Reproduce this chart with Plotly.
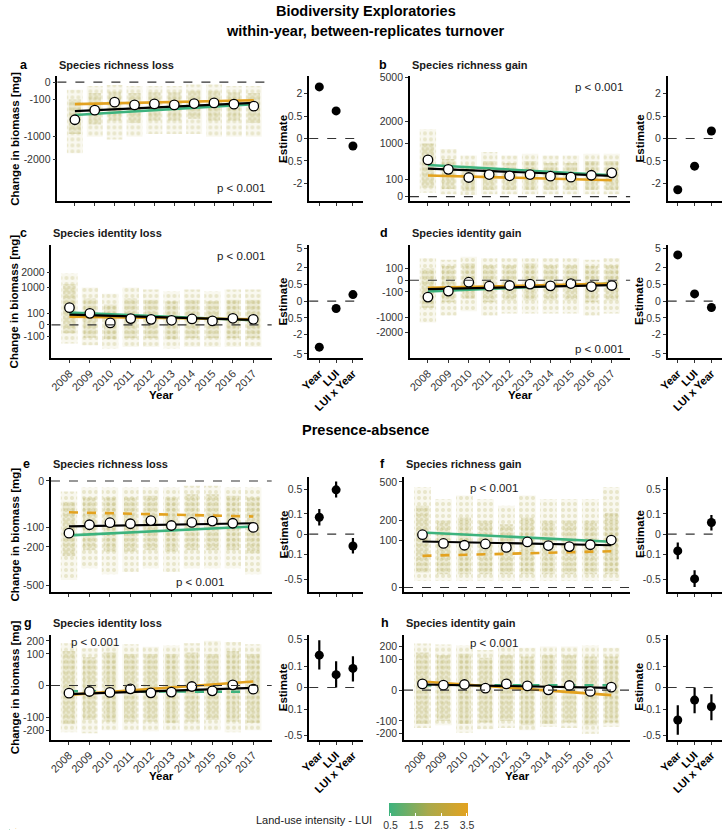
import numpy as np
import plotly.graph_objects as go

W, H = 722, 835
FONT = "Liberation Sans, Arial, sans-serif"

years = [2008, 2009, 2010, 2011, 2012, 2013, 2014, 2015, 2016, 2017]
terms = ["Year", "LUI", "LUI x Year"]
lui_ticks = [0.5, 1.5, 2.5, 3.5]
lui_range = [0.45, 3.55]

# ---------------- panel a : species richness loss (biomass)
a_mean = [-475, -263, -135, -174, -159, -174, -154, -145, -163, -194]
a_black = [-282, -145]
a_green = [-364, -163]
a_orange = [-163, -110]
a_est = [2.65, 0.76, -0.056]
a_est_lo = [2.40, 0.64, -0.10]
a_est_hi = [2.95, 0.88, -0.025]
a_cloud_lo = [-1700, -1000, -1100, -1000, -900, -900, -900, -1000, -1000, -1000]
a_cloud_hi = [-20, -5, -3, -5, -5, -5, -2, -2, -5, -5]
a_core_lo = [-900, -600, -500, -550, -500, -500, -450, -500, -500, -550]
a_core_hi = [-100, -40, -30, -40, -35, -35, -25, -25, -35, -40]
a_yticks = [0, -100, -1000, -2000]

# ---------------- panel b : species richness gain (biomass)
b_mean = [475, 263, 129, 172, 153, 172, 147, 133, 161, 199]
b_black = [277, 153]
b_green = [354, 161]
b_orange = [157, 95]
b_est = [-2.61, -0.757, 0.057]
b_est_lo = [-2.90, -0.88, 0.025]
b_est_hi = [-2.35, -0.64, 0.10]
b_cloud_lo = [5, 2, 1, 2, 2, 2, 2, 2, 2, 2]
b_cloud_hi = [1600, 800, 600, 700, 600, 650, 600, 600, 650, 650]
b_core_lo = [30, 20, 10, 15, 15, 15, 15, 15, 15, 15]
b_core_hi = [1000, 500, 350, 450, 400, 450, 400, 400, 450, 450]
b_yticks = [0, 100, 1000, 2000, 5000]

# ---------------- panel c : species identity loss (biomass)
c_mean = [212, 95, 2.8, 28, 22, 15, 25, 11, 31, 22]
c_black = [75, 18]
c_green = [107, 15]
c_orange = [49, 22]
c_est = [-3.8, -0.097, 0.077]
c_est_lo = [-4.4, -0.19, 0.023]
c_est_hi = [-3.3, -0.033, 0.16]
c_cloud_lo = [-250, -300, -400, -350, -350, -400, -350, -350, -350, -350]
c_cloud_hi = [1900, 1000, 700, 1000, 900, 800, 900, 800, 900, 900]
c_core_lo = [-50, -120, -150, -130, -130, -150, -130, -130, -130, -130]
c_core_hi = [1200, 500, 300, 500, 450, 400, 450, 400, 450, 450]
c_yticks = [-100, 0, 100, 1000, 2000]

# ---------------- panel d : species identity gain (biomass)
d_mean = [-206, -86, -2.9, -26, -20, -11, -23, -8, -29, -20]
d_black = [-58, -18]
d_green = [-93, -8]
d_orange = [-42, -8]
d_est = [3.84, 0.094, -0.072]
d_est_lo = [3.3, 0.033, -0.16]
d_est_hi = [4.4, 0.19, -0.023]
d_cloud_lo = [-1300, -900, -700, -900, -800, -800, -800, -800, -900, -800]
d_cloud_hi = [350, 300, 400, 350, 350, 350, 350, 350, 300, 350]
d_core_lo = [-550, -350, -250, -350, -300, -300, -300, -300, -350, -300]
d_core_hi = [100, 150, 200, 170, 170, 200, 170, 170, 150, 170]
d_yticks = [-2000, -1000, -100, 0, 100]

# ---------------- panel e : species richness loss (presence-absence)
e_mean = [-125, -88, -80, -84, -72, -91, -79, -74, -82, -99]
e_black = [-95, -82]
e_green = [-136, -95]
e_orange = [-45, -58]
e_est = [0.07, 0.483, -0.035]
e_est_lo = [0.018, 0.33, -0.093]
e_est_hi = [0.156, 0.68, -0.004]
e_cloud_lo = [-450, -350, -400, -380, -350, -380, -350, -350, -350, -400]
e_cloud_hi = [-5, -2, -2, -2, -2, -2, -1, -1, -2, -2]
e_core_lo = [-260, -220, -230, -230, -220, -230, -220, -220, -220, -240]
e_core_hi = [-20, -12, -12, -12, -10, -12, -8, -8, -10, -12]
e_yticks = [0, -100, -200, -500]

# ---------------- panel f : species richness gain (presence-absence)
f_mean = [125, 87, 80, 85, 72, 93, 79, 75, 82, 101]
f_black = [95, 80]
f_green = [136, 94]
f_orange = [45, 59]
f_est = [-0.07, -0.497, 0.033]
f_est_lo = [-0.158, -0.695, 0.003]
f_est_hi = [-0.018, -0.324, 0.091]
f_cloud_lo = [2, 2, 2, 2, 2, 2, 2, 2, 2, 2]
f_cloud_hi = [450, 350, 380, 350, 300, 380, 350, 350, 350, 450]
f_core_lo = [10, 8, 8, 8, 8, 8, 8, 8, 8, 8]
f_core_hi = [300, 200, 220, 200, 180, 220, 200, 200, 200, 250]
f_yticks = [0, 100, 200, 500]

# ---------------- panel g : species identity loss (presence-absence)
g_mean = [-5.9, -3.6, -4.8, -1.1, -5.4, -4.4, -0.1, -2.9, 0.04, -1.35]
g_black = [-7.5, -0.57]
g_green = [-3.2, -4.0]
g_orange = [-8.8, 1.6]
g_est = [0.227, 0.036, 0.079]
g_est_lo = [0.071, 0.0, 0.0077]
g_est_hi = [0.483, 0.151, 0.213]
g_cloud_lo = [-220, -230, -200, -200, -210, -200, -210, -200, -220, -200]
g_cloud_hi = [180, 140, 170, 170, 150, 160, 180, 200, 190, 170]
g_core_lo = [-150, -120, -130, -130, -130, -140, -130, -120, -130, -140]
g_core_hi = [120, 80, 110, 100, 100, 100, 110, 100, 120, 100]
g_yticks = [-200, -100, 0, 100, 200]

# ---------------- panel h : species identity gain (presence-absence)
h_mean = [4.1, 2.6, 3.4, 0.4, 4.1, 1.9, 0.01, 2.3, -0.18, 0.94]
h_black = [3.4, 0.55]
h_green = [2.6, 2.6]
h_orange = [7.9, -2.6]
h_est = [-0.228, -0.034, -0.08]
h_est_lo = [-0.485, -0.144, -0.23]
h_est_hi = [-0.067, 0.0, -0.0096]
h_cloud_lo = [-150, -130, -190, -160, -150, -170, -140, -150, -200, -140]
h_cloud_hi = [230, 220, 210, 170, 200, 190, 200, 200, 210, 190]
h_core_lo = [-120, -100, -120, -110, -100, -130, -120, -110, -130, -110]
h_core_hi = [150, 130, 140, 110, 130, 120, 130, 130, 120, 120]
h_yticks = [-200, -100, 0, 100, 200]

est_ticks_r1 = [-2, -0.5, 0, 0.5, 2]
est_ticks_r2 = [-5, -2, -0.5, 0, 0.5, 2, 5]
est_ticks_r34 = [-0.5, -0.1, 0, 0.1, 0.5]

titles = ["Species richness loss", "Species richness gain",
          "Species identity loss", "Species identity gain",
          "Species richness loss", "Species richness gain",
          "Species identity loss", "Species identity gain"]
letters = ["a", "b", "c", "d", "e", "f", "g", "h"]

GREEN = "#3db37e"
ORANGE = "#e3a21f"


def st(v):
    v = np.asarray(v, dtype=float)
    return np.sign(v) * np.sqrt(np.abs(v))


def px(x):
    return x / W


def py(y):
    return 1 - y / H


def ax_ref(letter, n):
    return letter if n == 1 else f"{letter}{n}"


def ax_key(letter, n):
    return f"{letter}axis" if n == 1 else f"{letter}axis{n}"


panels = [
    dict(mean=a_mean, black=a_black, green=a_green, orange=a_orange, est=a_est, lo=a_est_lo, hi=a_est_hi,
         clo=a_cloud_lo, chi=a_cloud_hi, klo=a_core_lo, khi=a_core_hi, yt=a_yticks, et=est_ticks_r1,
         gdash=False, odash=False),
    dict(mean=b_mean, black=b_black, green=b_green, orange=b_orange, est=b_est, lo=b_est_lo, hi=b_est_hi,
         clo=b_cloud_lo, chi=b_cloud_hi, klo=b_core_lo, khi=b_core_hi, yt=b_yticks, et=est_ticks_r1,
         gdash=False, odash=False),
    dict(mean=c_mean, black=c_black, green=c_green, orange=c_orange, est=c_est, lo=c_est_lo, hi=c_est_hi,
         clo=c_cloud_lo, chi=c_cloud_hi, klo=c_core_lo, khi=c_core_hi, yt=c_yticks, et=est_ticks_r2,
         gdash=False, odash=False),
    dict(mean=d_mean, black=d_black, green=d_green, orange=d_orange, est=d_est, lo=d_est_lo, hi=d_est_hi,
         clo=d_cloud_lo, chi=d_cloud_hi, klo=d_core_lo, khi=d_core_hi, yt=d_yticks, et=est_ticks_r2,
         gdash=False, odash=False),
    dict(mean=e_mean, black=e_black, green=e_green, orange=e_orange, est=e_est, lo=e_est_lo, hi=e_est_hi,
         clo=e_cloud_lo, chi=e_cloud_hi, klo=e_core_lo, khi=e_core_hi, yt=e_yticks, et=est_ticks_r34,
         gdash=False, odash=True),
    dict(mean=f_mean, black=f_black, green=f_green, orange=f_orange, est=f_est, lo=f_est_lo, hi=f_est_hi,
         clo=f_cloud_lo, chi=f_cloud_hi, klo=f_core_lo, khi=f_core_hi, yt=f_yticks, et=est_ticks_r34,
         gdash=False, odash=True),
    dict(mean=g_mean, black=g_black, green=g_green, orange=g_orange, est=g_est, lo=g_est_lo, hi=g_est_hi,
         clo=g_cloud_lo, chi=g_cloud_hi, klo=g_core_lo, khi=g_core_hi, yt=g_yticks, et=est_ticks_r34,
         gdash=True, odash=False),
    dict(mean=h_mean, black=h_black, green=h_green, orange=h_orange, est=h_est, lo=h_est_lo, hi=h_est_hi,
         clo=h_cloud_lo, chi=h_cloud_hi, klo=h_core_lo, khi=h_core_hi, yt=h_yticks, et=est_ticks_r34,
         gdash=True, odash=False),
]

# layout geometry (pixels)
rows_px = [(72, 198), (242, 356), (476, 592), (635, 741)]
main_x_px = [(49, 266), (406, 629), (43, 266), (406, 629), (42.5, 266), (400, 629), (42.5, 266), (400, 629)]
est_x_px = [(304, 358.5), (667, 721.5)]
main_yrange = [(-69, 3.3), (-2.8, 71.4), (-28.1, 67.7), (-66.2, 30), (-23.8, 0.85), (-0.96, 23.4),
               (-17.2, 16.1), (-16.1, 18)]
est_yrange = [(-1.98, 1.96), (-2.41, 2.38), (-0.911, 0.897), (-0.769, 0.778)]
pval_pos = [(235, 184.5), (597.7, 82.8), (235, 252.8), (597.7, 346.8), (193, 582), (491, 487),
            (86.7, 642.8), (491, 643.8)]

fig = go.Figure()
layout = dict(
    width=W, height=H, margin=dict(l=0, r=0, t=0, b=0),
    paper_bgcolor="white", plot_bgcolor="white", showlegend=False,
    barmode="overlay", font=dict(family=FONT, color="#333333", size=10),
)
shapes = []
annotations = []

axis_common = dict(showgrid=False, zeroline=False, showline=True, linecolor="black", linewidth=1.6,
                   ticks="outside", ticklen=3, tickwidth=1, tickcolor="#333333",
                   tickfont=dict(family=FONT, size=10.5, color="#333333"))

for i, p in enumerate(panels):
    row = i // 2
    col = i % 2
    nm = 2 * i + 1
    ne = 2 * i + 2
    xm, ym = ax_ref("x", nm), ax_ref("y", nm)
    xe, ye = ax_ref("x", ne), ax_ref("y", ne)
    y0p, y1p = rows_px[row]
    ydom = [py(y1p), py(y0p)]
    labelled = row in (1, 3)

    # point clouds (outer extent dotted, dense core shaded, per year)
    fig.add_trace(go.Bar(x=years, base=st(p["clo"]), y=st(p["chi"]) - st(p["clo"]), width=0.8,
                         marker=dict(color="rgba(200,190,100,0.10)", line=dict(width=0),
                                     pattern=dict(shape=".", fgcolor="rgba(175,165,70,0.45)",
                                                  size=6, solidity=0.35, fillmode="overlay")),
                         xaxis=xm, yaxis=ym, hoverinfo="skip"))
    fig.add_trace(go.Bar(x=years, base=st(p["klo"]), y=st(p["khi"]) - st(p["klo"]), width=0.62,
                         marker=dict(color="rgba(170,160,60,0.16)", line=dict(width=0),
                                     pattern=dict(shape=".", fgcolor="rgba(160,150,55,0.35)",
                                                  size=5, solidity=0.4, fillmode="overlay")),
                         xaxis=xm, yaxis=ym, hoverinfo="skip"))
    ends = [years[0], years[-1]]
    fig.add_trace(go.Scatter(x=ends, y=st(p["green"]), mode="lines",
                             line=dict(color=GREEN, width=2.6, dash="dash" if p["gdash"] else "solid"),
                             xaxis=xm, yaxis=ym))
    fig.add_trace(go.Scatter(x=ends, y=st(p["orange"]), mode="lines",
                             line=dict(color=ORANGE, width=2.6, dash="dash" if p["odash"] else "solid"),
                             xaxis=xm, yaxis=ym))
    fig.add_trace(go.Scatter(x=ends, y=st(p["black"]), mode="lines",
                             line=dict(color="black", width=2.2), xaxis=xm, yaxis=ym))
    fig.add_trace(go.Scatter(x=years, y=st(p["mean"]), mode="markers",
                             marker=dict(color="white", size=9.5, line=dict(color="black", width=1.3)),
                             xaxis=xm, yaxis=ym))

    # estimates
    est = st(p["est"])
    fig.add_trace(go.Scatter(x=[1, 2, 3], y=est, mode="markers",
                             marker=dict(color="black", size=9),
                             error_y=dict(type="data", symmetric=False,
                                          array=st(p["hi"]) - est, arrayminus=est - st(p["lo"]),
                                          color="black", thickness=2.2, width=0),
                             xaxis=xe, yaxis=ye))

    mx0, mx1 = main_x_px[i]
    ex0, ex1 = est_x_px[col]
    layout[ax_key("x", nm)] = dict(axis_common, domain=[px(mx0), px(mx1)], anchor=ym,
                                   range=[2007.12, 2017.9], tickvals=years,
                                   ticktext=[str(y) for y in years], showticklabels=labelled,
                                   tickangle=-45)
    layout[ax_key("x", nm)]["tickfont"] = dict(family=FONT, size=11, color="#333333")
    layout[ax_key("y", nm)] = dict(axis_common, domain=ydom, anchor=xm, range=list(main_yrange[i]),
                                   tickvals=st(p["yt"]), ticktext=[f"{v:g}" for v in p["yt"]])
    layout[ax_key("x", ne)] = dict(axis_common, domain=[px(ex0), px(ex1)], anchor=ye,
                                   range=[0.4, 3.6], tickvals=[1, 2, 3],
                                   ticktext=[f"<b>{t}</b>" for t in terms], showticklabels=labelled,
                                   tickangle=-45)
    layout[ax_key("x", ne)]["tickfont"] = dict(family=FONT, size=11, color="black")
    layout[ax_key("y", ne)] = dict(axis_common, domain=ydom, anchor=xe, range=list(est_yrange[row]),
                                   tickvals=st(p["et"]), ticktext=[f"{v:g}" for v in p["et"]])

    for n in (nm, ne):
        shapes.append(dict(type="line", xref=f"{ax_ref('x', n)} domain", x0=0, x1=1,
                           yref=ax_ref("y", n), y0=0, y1=0,
                           line=dict(color="#333333", width=1.1, dash="dash"), layer="above"))

    # texts
    ty = {0: 60.5, 1: 229.5, 2: 463, 3: 623}[row]
    letter_x = [15, 379, 15, 380, 18, 378, 19, 381][i]
    annotations.append(dict(x=px(letter_x), y=py(ty), xref="paper", yref="paper", text=f"<b>{letters[i]}</b>",
                            showarrow=False, xanchor="center", yanchor="middle",
                            font=dict(family=FONT, size=12.5, color="black")))
    annotations.append(dict(x=px(mx0), y=py(ty), xref="paper", yref="paper", text=f"<b>{titles[i]}</b>",
                            showarrow=False, xanchor="left", yanchor="middle",
                            font=dict(family=FONT, size=11, color="#1a1a1a")))
    pxv, pyv = pval_pos[i]
    annotations.append(dict(x=px(pxv), y=py(pyv), xref="paper", yref="paper", text="p < 0.001",
                            showarrow=False, xanchor="center", yanchor="middle",
                            font=dict(family=FONT, size=11.5, color="#1a1a1a")))
    cy = (y0p + y1p) / 2
    if col == 0:
        annotations.append(dict(x=px(6), y=py(cy), xref="paper", yref="paper",
                                text="<b>Change in biomass [mg]</b>", textangle=-90, showarrow=False,
                                xanchor="center", yanchor="middle",
                                font=dict(family=FONT, size=11.5, color="black")))
    est_title_x = [277.5, 638.5][col]
    annotations.append(dict(x=px(est_title_x), y=py(cy), xref="paper", yref="paper",
                            text="<b>Estimate</b>", textangle=-90, showarrow=False,
                            xanchor="center", yanchor="middle",
                            font=dict(family=FONT, size=11.5, color="black")))
    if labelled:
        annotations.append(dict(x=px((mx0 + mx1) / 2), y=py(y1p + 37), xref="paper", yref="paper",
                                text="<b>Year</b>", showarrow=False, xanchor="center", yanchor="middle",
                                font=dict(family=FONT, size=11.5, color="black")))

# main titles
for txt, yy in [("Biodiversity Exploratories", 6), ("within-year, between-replicates turnover", 26.5),
                ("Presence-absence", 429)]:
    annotations.append(dict(x=0.5, y=py(yy), xref="paper", yref="paper", text=f"<b>{txt}</b>",
                            showarrow=False, xanchor="center", yanchor="middle",
                            font=dict(family=FONT, size=14.5, color="black")))

# colour bar for LUI
fig.add_trace(go.Scatter(x=lui_range, y=lui_range, mode="markers", xaxis="x17", yaxis="y17",
                         marker=dict(color=lui_range, cmin=lui_range[0], cmax=lui_range[1],
                                     colorscale=[[0, GREEN], [0.5, "#a9a94c"], [1, ORANGE]],
                                     showscale=True, size=1,
                                     colorbar=dict(orientation="h", x=px(425), xanchor="center",
                                                   y=py(805), yanchor="top", len=80 / W, lenmode="fraction",
                                                   thickness=13, outlinewidth=0, xpad=0, ypad=0,
                                                   tickvals=lui_ticks, ticktext=[f"{v:g}" for v in lui_ticks],
                                                   ticks="inside", ticklen=3, tickcolor="white",
                                                   tickfont=dict(family=FONT, size=10.5, color="#333333")))))
layout["xaxis17"] = dict(domain=[0, 0.01], visible=False, anchor="y17")
layout["yaxis17"] = dict(domain=[0, 0.01], visible=False, anchor="x17")
annotations.append(dict(x=px(370), y=py(822), xref="paper", yref="paper", text="Land-use intensity - LUI",
                        showarrow=False, xanchor="right", yanchor="middle",
                        font=dict(family=FONT, size=11, color="#1a1a1a")))

layout["shapes"] = shapes
layout["annotations"] = annotations
fig.update_layout(**layout)
fig.write_html("out.html")
